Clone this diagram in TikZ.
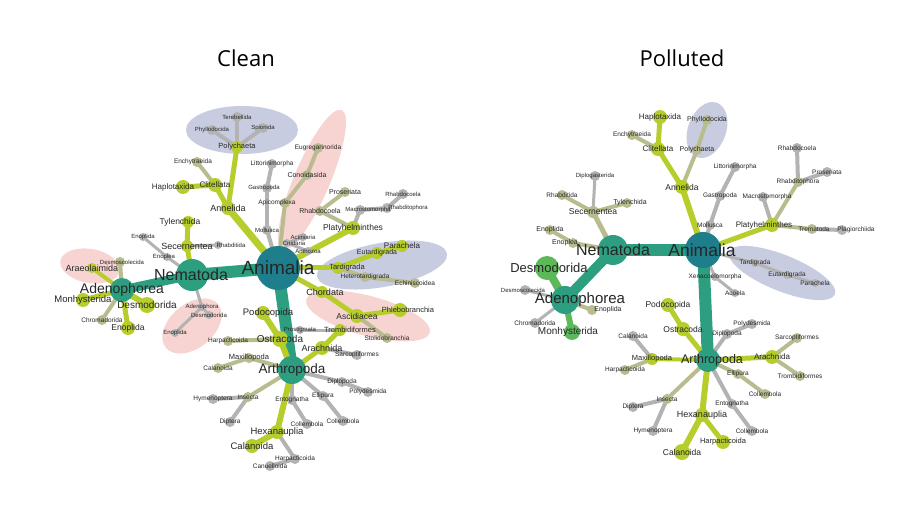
\documentclass[tikz,border=0pt]{standalone}
\usepackage{fontspec}
\setmainfont{Liberation Sans}
\newfontfamily\titlefont{Open Sans}
\definecolor{teal}{HTML}{1E7E8C}
\definecolor{grn}{HTML}{2E9E80}
\definecolor{lgrn}{HTML}{5DB85A}
\definecolor{yg}{HTML}{B7CD2C}
\definecolor{olv}{HTML}{B9BC8E}
\definecolor{gry}{HTML}{B3B3B3}
\definecolor{blueish}{HTML}{C8CCE0}
\definecolor{pinkish}{HTML}{F7D4D1}
\begin{document}
\begin{tikzpicture}[x=1pt,y=-1pt,
    lbl/.style={inner sep=0pt,text=black!85}]
\useasboundingbox[fill=white] (0,0) rectangle (904,526);
\node[font=\titlefont\fontsize{22}{22}\selectfont] (tclean) at (246,58) {Clean};
\node[font=\titlefont\fontsize{22}{22}\selectfont] (tpoll) at (682,58) {Polluted};
% highlighted groups
\fill[blueish] (242,130) ellipse (56pt and 24pt);
\fill[blueish,rotate around={10:(382,265)}] (382,265) ellipse (66pt and 22pt);
\fill[pinkish,rotate around={67:(312,180)}] (312,180) ellipse (76pt and 18pt);
\fill[pinkish,rotate around={-15:(368,316)}] (368,316) ellipse (64pt and 20pt);
\fill[pinkish,rotate around={40:(192,326)}] (192,326) ellipse (34pt and 22pt);
\fill[pinkish,rotate around={-10:(90,266)}] (90,266) ellipse (30pt and 17pt);
\fill[blueish,rotate around={-20:(707,130)}] (707,130) ellipse (19pt and 29pt);
\fill[blueish,rotate around={-22:(782,273)}] (782,273) ellipse (57pt and 18pt);
% positions
\foreach \n/\x/\y in {LAni/278/268,LNem/192/275,LAde/122/290,LAra/92/268,LDsc/120/262,LMon/83/300,LDes/147/305,LChr/102/320,LEnd/128/328,
  LSec/187/246,LTyl/188/222,LRha/218/245,LEnp/167/257,LEno/143/237,LAdo/202/307,LDso/209/315,LEn2/175/333,
  LAnn/228/208,LCli/215/185,LHap/183/187,LEnc/197/162,LPol/237/147,LTer/237/117,LPhy/212/130,LSpi/263/128,
  LMol/267/230,LGas/267/188,LLit/272/164,LCni/287/243,LAct/303/237,LAnt/308/251,LApi/285/203,LCon/307/175,LEug/318/148,
  LPla/353/228,LRhb/320/211,LPro/345/192,LMac/360/210,LRht/387/208,LRhd/403/194,
  LTar/338/268,LEut/377/253,LPar/402/246,LHet/365/277,LEch/415/283,LCho/322/292,LAsc/357/316,LPhl/400/310,LSto/387/338,
  LArt/292/370,LOst/280/339,LPod/263/313,LHar/228/341,LArc/322/348,LTro/340/330,LPrs/300/330,LSar/357/355,LMax/249/358,LCal/218/368,
  LDip/342/382,LPly/368/392,LEll/323/396,LCo1/343/421,LCo2/307/424,LEnt/292/400,LIns/248/397,LHym/213/399,LDpt/230/422,
  LHex/277/432,LCa2/252/446,LHa2/295/459,LCan/270/466,
  RAni/703/250,RNem/613/250,RAde/565/300,RDes/547/268,RMon/572/332,RDsc/525/290,REnd/592/310,RChr/535/323,REnp/573/243,REno/550/230,
  RSec/593/212,RRha/562/195,RDip/595/176,RTyl/627/203,RAnn/682/187,RCli/658/149,RHap/660/117,REnc/632/135,RPol/697/150,RPhy/707/120,
  RMol/710/225,RGas/720/196,RLit/735/167,RPla/772/225,RMac/763/197,RRht/798/182,RRhd/797/148,RPro/827/172,RTrm/812/229,RPlg/842/230,
  RTar/755/263,REut/787/275,RPar/815/283,RXen/715/277,RAco/735/293,
  RArt/708/360,ROst/683/329,RPod/668/305,RDpl/727/334,RPly/752/324,RArc/772/357,RSar/797/338,RTro/800/376,RMax/652/359,RCal/633/336,
  RHar/625/370,REll/738/374,RCo1/765/394,REnt/732/404,RCo2/752/431,RIns/667/399,RDpt/633/407,RHym/653/431,RHex/702/415,RCa2/682/452,RHa2/723/442}
  \coordinate (\n) at (\x,\y);
% branches
\foreach \a/\b/\w/\c in {LAni/LNem/12/grn,LNem/LAde/9/grn,LAde/LAra/4/yg,LAde/LDsc/4/olv,LAde/LMon/5/yg,LAde/LDes/6/yg,LAde/LChr/4/olv,LAde/LEnd/5/yg,
  LNem/LSec/5/yg,LSec/LTyl/5/yg,LSec/LRha/3/gry,LNem/LEnp/3/gry,LEnp/LEno/3/gry,LNem/LAdo/3/gry,LAdo/LDso/3/gry,LAdo/LEn2/3/gry,
  LAni/LAnn/7/yg,LAnn/LCli/5/yg,LCli/LHap/5/yg,LCli/LEnc/4/olv,LAnn/LPol/5/yg,LPol/LTer/4/gry,LPol/LPhy/4/gry,LPol/LSpi/4/gry,
  LAni/LMol/4/gry,LMol/LGas/4/gry,LGas/LLit/4/gry,LAni/LCni/3/gry,LCni/LAct/3/gry,LCni/LAnt/3/gry,LAni/LApi/4/olv,LApi/LCon/4/olv,LCon/LEug/4/olv,
  LAni/LPla/6/yg,LPla/LRhb/4/olv,LRhb/LPro/4/olv,LPla/LMac/4/gry,LMac/LRht/4/gry,LRht/LRhd/4/gry,
  LAni/LTar/5/yg,LTar/LEut/5/yg,LEut/LPar/5/yg,LTar/LHet/4/olv,LHet/LEch/4/olv,LAni/LCho/5/yg,LCho/LAsc/5/yg,LAsc/LPhl/5/yg,LAsc/LSto/4/olv,
  LAni/LArt/12/grn,LArt/LOst/6/yg,LOst/LPod/6/yg,LOst/LHar/4/olv,LArt/LArc/5/yg,LArc/LTro/5/yg,LTro/LPrs/3/gry,LArc/LSar/4/gry,
  LArt/LMax/4/olv,LMax/LCal/4/olv,LArt/LDip/4/gry,LDip/LPly/4/gry,LArt/LEll/4/gry,LEll/LCo1/4/gry,LArt/LEnt/4/gry,LEnt/LCo2/4/gry,
  LArt/LIns/4/olv,LIns/LHym/4/gry,LIns/LDpt/4/gry,LArt/LHex/6/yg,LHex/LCa2/6/yg,LHex/LHa2/4/gry,LHa2/LCan/4/gry,
  RAni/RNem/12/grn,RNem/RAde/10/grn,RAde/RDes/8/lgrn,RAde/RMon/6/lgrn,RAde/RDsc/3/gry,RAde/REnd/4/olv,RAde/RChr/3/gry,
  RNem/REnp/4/olv,REnp/REno/4/olv,RNem/RSec/5/olv,RSec/RRha/4/olv,RSec/RDip/3/gry,RSec/RTyl/4/olv,
  RAni/RAnn/6/yg,RAnn/RCli/5/yg,RCli/RHap/5/yg,RCli/REnc/4/olv,RAnn/RPol/4/olv,RPol/RPhy/4/olv,
  RAni/RMol/4/gry,RMol/RGas/4/gry,RGas/RLit/4/gry,RAni/RPla/5/yg,RPla/RMac/4/gry,RPla/RRht/4/olv,RRht/RRhd/4/gry,RRht/RPro/4/gry,
  RPla/RTrm/4/olv,RTrm/RPlg/4/gry,RAni/RTar/3/gry,RTar/REut/3/gry,REut/RPar/3/gry,RAni/RXen/3/gry,RXen/RAco/3/gry,
  RAni/RArt/12/grn,RArt/ROst/5/yg,ROst/RPod/5/yg,RArt/RDpl/4/gry,RDpl/RPly/4/gry,RArt/RArc/5/yg,RArc/RSar/4/olv,RArc/RTro/4/olv,
  RArt/RMax/4/yg,RMax/RCal/4/gry,RMax/RHar/4/olv,RArt/REll/4/olv,REll/RCo1/4/olv,RArt/REnt/4/gry,REnt/RCo2/4/gry,
  RArt/RIns/4/olv,RIns/RDpt/4/gry,RIns/RHym/4/gry,RArt/RHex/6/yg,RHex/RCa2/6/yg,RHex/RHa2/5/yg}
  \draw[line width=\w pt,\c,line cap=round] (\a) -- (\b);
% taxa dots
\foreach \n/\r/\c in {LAni/22/teal,LNem/16/grn,LAde/12/grn,LArt/14/grn,LAra/5/yg,LDsc/5/olv,LMon/7/yg,LDes/8/yg,LChr/5/olv,LEnd/7/yg,
  LSec/6/yg,LTyl/6/yg,LRha/4/gry,LEnp/4/gry,LEno/4/gry,LAdo/4/gry,LDso/4/gry,LEn2/4/gry,LAnn/7/yg,LCli/7/yg,LHap/7/yg,LEnc/5/olv,
  LPol/6/yg,LTer/5/gry,LPhy/5/gry,LSpi/5/gry,LMol/5/gry,LGas/5/gry,LLit/5/gry,LCni/4/gry,LAct/4/gry,LAnt/4/gry,LApi/5/olv,LCon/5/olv,LEug/5/olv,
  LPla/7/yg,LRhb/5/olv,LPro/5/olv,LMac/5/gry,LRht/5/gry,LRhd/5/gry,LTar/6/yg,LEut/6/yg,LPar/6/yg,LHet/5/olv,LEch/5/olv,
  LCho/6/yg,LAsc/7/yg,LPhl/7/yg,LSto/5/olv,LOst/8/yg,LPod/7/yg,LHar/5/olv,LArc/7/yg,LTro/6/yg,LPrs/4/gry,LSar/5/gry,LMax/5/olv,LCal/5/olv,
  LDip/5/gry,LPly/5/gry,LEll/5/gry,LCo1/5/gry,LCo2/5/gry,LEnt/5/gry,LIns/5/olv,LHym/5/gry,LDpt/5/gry,LHex/7/yg,LCa2/7/yg,LHa2/5/gry,LCan/5/gry,
  RAni/18/teal,RNem/15/grn,RAde/14/grn,RDes/12/lgrn,RMon/8/lgrn,RDsc/5/gry,REnd/5/olv,RChr/5/gry,REnp/5/olv,REno/5/olv,RSec/6/olv,
  RRha/5/olv,RDip/5/gry,RTyl/5/olv,RAnn/7/yg,RCli/7/yg,RHap/7/yg,REnc/5/olv,RPol/5/olv,RPhy/5/olv,RMol/5/gry,RGas/5/gry,RLit/5/gry,
  RPla/7/yg,RMac/5/gry,RRht/5/olv,RRhd/5/gry,RPro/5/gry,RTrm/5/olv,RPlg/5/gry,RTar/4/gry,REut/4/gry,RPar/4/gry,RXen/4/gry,RAco/4/gry,
  RArt/12/grn,ROst/7/yg,RPod/7/yg,RDpl/5/gry,RPly/5/gry,RArc/7/yg,RSar/5/olv,RTro/5/olv,RMax/6/yg,RCal/5/gry,RHar/5/olv,REll/5/olv,
  RCo1/5/olv,REnt/5/gry,RCo2/5/gry,RIns/5/olv,RDpt/5/gry,RHym/5/gry,RHex/7/yg,RCa2/8/yg,RHa2/7/yg}
  \fill[\c] (\n) circle (\r pt);
% names
\foreach \n/\dx/\s/\t in {LAni/0/19/Animalia,LNem/-1/16/Nematoda,LAde/0/14/Adenophorea,LAra/0/9/Araeolaimida,LDsc/2/6/Desmoscolecida,
  LMon/0/9.5/Monhysterida,LDes/0/10/Desmodorida,LChr/0/6.5/Chromadorida,LEnd/0/8.5/Enoplida,LSec/0/9/Secernentea,LTyl/-8/8.5/Tylenchida,
  LRha/13/6/Rhabditida,LEnp/-3/6/Enoplea,LEno/0/6/Enoplida,LAdo/0/6/Adenophora,LDso/0/6/Desmodorida,LEn2/0/6/Enoplida,
  LAnn/0/9/Annelida,LCli/0/8/Clitellata,LHap/-10/8/Haplotaxida,LEnc/-4/6.5/Enchytraeida,LPol/0/7.5/Polychaeta,LTer/0/6/Terebellida,
  LPhy/0/6/Phyllodocida,LSpi/0/6/Spionida,LMol/0/6/Mollusca,LGas/-3/6/Gastropoda,LLit/0/6.5/Littorinimorpha,LCni/7/6/Cnidaria,
  LAct/0/6/Actiniaria,LAnt/0/6/Anthozoa,LApi/-8/6.5/Apicomplexa,LCon/0/7/Conoidasida,LEug/0/6.5/Eugregarinorida,LPla/0/8.5/Platyhelminthes,
  LRhb/0/7/Rhabdocoela,LPro/0/7/Proseriata,LMac/8/6/Macrostomorpha,LRht/21/6/Rhabditophora,LRhd/0/6/Rhabdocoela,LTar/9/7.5/Tardigrada,
  LEut/0/7/Eutardigrada,LPar/0/8/Parachela,LHet/0/6.5/Heterotardigrada,LEch/0/6.5/Echiniscoidea,LCho/3/9/Chordata,LAsc/0/8.5/Ascidiacea,
  LPhl/8/7.5/Phlebobranchia,LSto/0/6.5/Stolidobranchia,LArt/0/13.5/Arthropoda,LOst/0/10/Ostracoda,LPod/5/9.5/Podocopida,LHar/0/6.5/Harpacticoida,
  LArc/0/9/Arachnida,LTro/10/7.5/Trombidiformes,LPrs/0/6/Prostigmata,LSar/0/6.5/Sarcoptiformes,LMax/0/7.5/Maxillopoda,LCal/0/6.5/Calanoida,
  LDip/0/6.5/Diplopoda,LPly/0/6.5/Polydesmida,LEll/0/6.5/Ellipura,LCo1/0/6.5/Collembola,LCo2/0/6.5/Collembola,LEnt/0/6.5/Entognatha,
  LIns/0/6.5/Insecta,LHym/0/6.5/Hymenoptera,LDpt/0/6.5/Diptera,LHex/0/9.5/Hexanauplia,LCa2/0/9.5/Calanoida,LHa2/0/6.5/Harpacticoida,LCan/0/6.5/Canuelloida,
  RAni/-1/17.5/Animalia,RNem/0/16/Nematoda,RAde/15/15/Adenophorea,RDes/2/13/Desmodorida,RMon/-4/10/Monhysterida,RDsc/-2/6/Desmoscolecida,
  REnd/16/7/Enoplida,RChr/0/6.5/Chromadorida,REnp/-8/7/Enoplea,REno/0/7/Enoplida,RSec/0/8.5/Secernentea,RRha/0/6.5/Rhabditida,
  RDip/0/6/Diplogasterida,RTyl/3/7/Tylenchida,RAnn/0/8.5/Annelida,RCli/0/8/Clitellata,RHap/0/8/Haplotaxida,REnc/0/6.5/Enchytraeida,
  RPol/0/7/Polychaeta,RPhy/0/7/Phyllodocida,RMol/0/6.5/Mollusca,RGas/0/6.5/Gastropoda,RLit/0/6.5/Littorinimorpha,RPla/-8/8/Platyhelminthes,
  RMac/4/6.5/Macrostomorpha,RRht/0/6.5/Rhabditophora,RRhd/0/6.5/Rhabdocoela,RPro/0/6.5/Proseriata,RTrm/2/6.5/Trematoda,RPlg/14/6.5/Plagiorchiida,
  RTar/0/6.5/Tardigrada,REut/0/6.5/Eutardigrada,RPar/0/6.5/Parachela,RXen/0/6.5/Xenacoelomorpha,RAco/0/6.5/Acoela,
  RArt/4/12.5/Arthropoda,ROst/0/8.5/Ostracoda,RPod/0/8.5/Podocopida,RDpl/0/6.5/Diplopoda,RPly/0/6.5/Polydesmida,RArc/0/8/Arachnida,
  RSar/0/6.5/Sarcoptiformes,RTro/0/6.5/Trombidiformes,RMax/0/7.5/Maxillopoda,RCal/0/6.5/Calanoida,RHar/0/6.5/Harpacticoida,
  REll/0/6.5/Ellipura,RCo1/0/6.5/Collembola,REnt/0/6.5/Entognatha,RCo2/0/6.5/Collembola,RIns/0/6.5/Insecta,RDpt/0/6.5/Diptera,
  RHym/0/6.5/Hymenoptera,RHex/0/9/Hexanauplia,RCa2/0/8.5/Calanoida,RHa2/0/7.5/Harpacticoida}
  \node[lbl,font=\fontsize{\s}{\s}\selectfont,xshift=\dx pt] (\n-t) at (\n) {\t};
\end{tikzpicture}
\end{document}
